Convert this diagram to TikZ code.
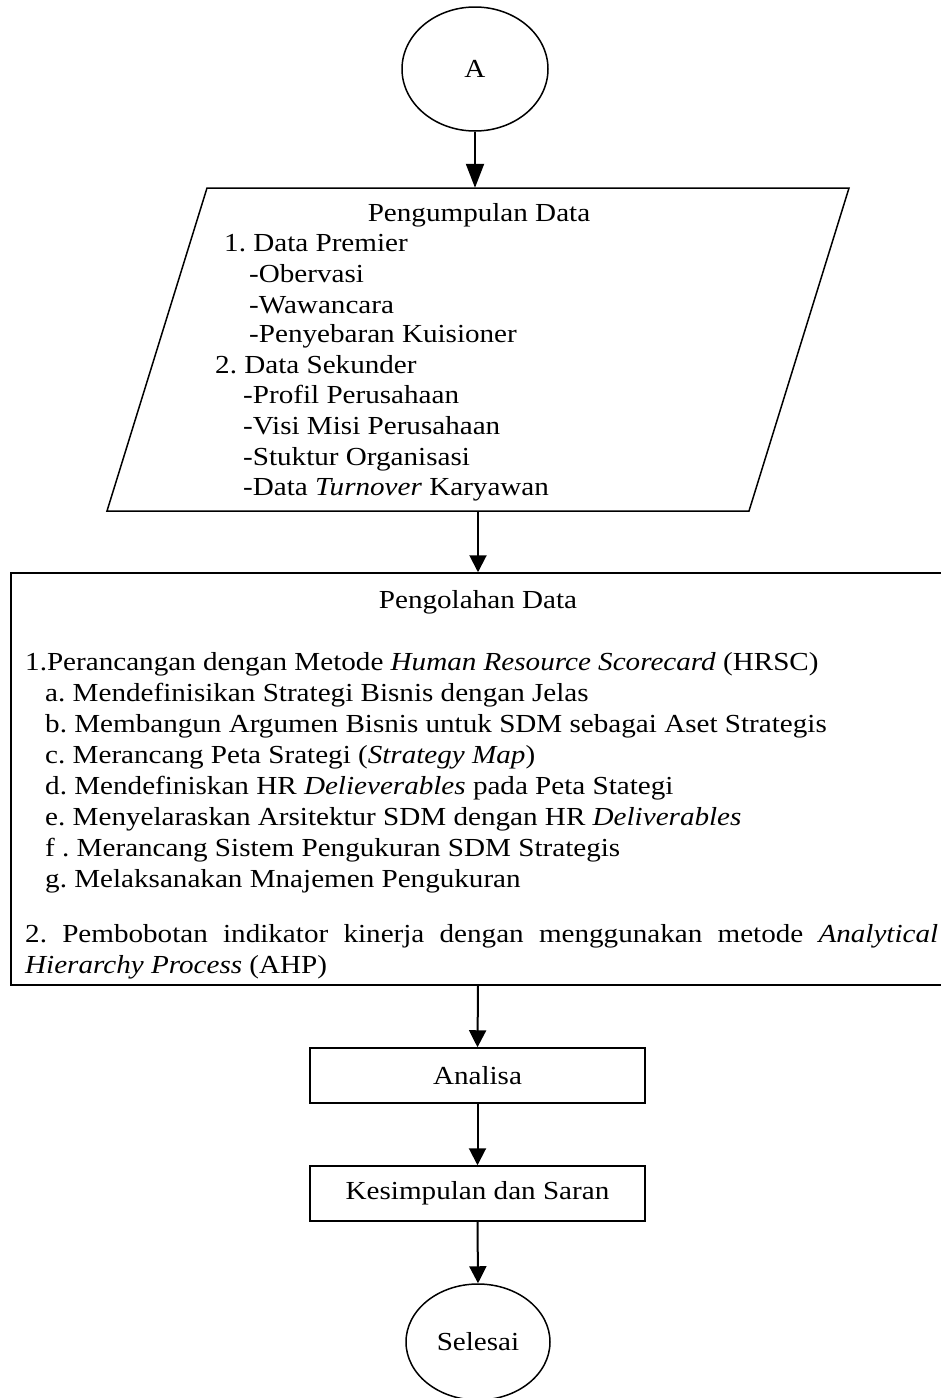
\documentclass[tikz,border=0pt]{standalone}
\usepackage{fontspec}
\setmainfont{Liberation Serif}[FakeStretch=1.12]
\usetikzlibrary{shapes.geometric,arrows.meta}
\begin{document}
\frenchspacing
\begin{tikzpicture}[x=1pt,y=-1pt,
  every node/.style={font=\fontsize{26}{31}\selectfont},
  outline/.style={draw,line width=1.5pt},
  arr/.style={draw,line width=2pt,-{Triangle[length=17pt,width=17pt]}},
  txt/.style={anchor=base west,inner sep=0pt},
  ctxt/.style={anchor=base,inner sep=0pt},
  ell/.style={ellipse,outline,inner sep=0pt},
  boxx/.style={rectangle,outline,inner sep=0pt}]
\useasboundingbox (0,0) rectangle (941,1398);
\clip (0,0) rectangle (941,1398);
\fill[white] (0,0) rectangle (941,1398);

% Start
\node[ell,minimum width=146pt,minimum height=124pt] (A) at (475,69) {A};

% Pengumpulan data (parallelogram)
\node[inner sep=0pt,minimum width=642pt,minimum height=323pt] (P) at (478,349.5) {};
\draw[outline] (207,188) -- (849,188) -- (749,511) -- (107,511) -- cycle;
\node[ctxt] (p0) at (479,221) {Pengumpulan Data};
\node[txt] (p1) at (224,251) {1. Data Premier};
\node[txt] (p2) at (249,282) {-Obervasi};
\node[txt] (p3) at (249,313) {-Wawancara};
\node[txt] (p4) at (249,342) {-Penyebaran Kuisioner};
\node[txt] (p5) at (215,373) {2. Data Sekunder};
\node[txt] (p6) at (243,403) {-Profil Perusahaan};
\node[txt] (p7) at (243,434) {-Visi Misi Perusahaan};
\node[txt] (p8) at (243,465) {-Stuktur Organisasi};
\node[txt] (p9) at (243,495) {-Data \textit{Turnover} Karyawan};

% Pengolahan data
\node[boxx,minimum width=934pt,minimum height=412pt] (B) at (478,779) {};
\node[ctxt] (b0) at (478,608) {Pengolahan Data};
\node[txt] (b1) at (25,670) {1.Perancangan dengan Metode \textit{Human Resource Scorecard} (HRSC)};
\node[txt] (b2) at (45,701) {a. Mendefinisikan Strategi Bisnis dengan Jelas};
\node[txt] (b3) at (45,732) {b. Membangun Argumen Bisnis untuk SDM sebagai Aset Strategis};
\node[txt] (b4) at (45,763) {c. Merancang Peta Srategi (\textit{Strategy Map})};
\node[txt] (b5) at (45,794) {d. Mendefiniskan HR \textit{Delieverables} pada Peta Stategi};
\node[txt] (b6) at (45,825) {e. Menyelaraskan Arsitektur SDM dengan HR \textit{Deliverables}};
\node[txt] (b7) at (45,856) {f . Merancang Sistem Pengukuran SDM Strategis};
\node[txt] (b8) at (45,887) {g. Melaksanakan Mnajemen Pengukuran};
\node[txt] (b9) at (25,942) {\makebox[913pt][s]{2. Pembobotan indikator kinerja dengan menggunakan metode \textit{Analytical}}};
\node[txt] (b10) at (25,973) {\textit{Hierarchy Process} (AHP)};

% Analisa, Kesimpulan, Selesai
\node[boxx,minimum width=335pt,minimum height=55pt] (An) at (477.5,1075.5) {Analisa};
\node[boxx,minimum width=335pt,minimum height=55pt] (Ks) at (477.5,1193.5) {Kesimpulan dan Saran};
\node[ell,minimum width=144pt,minimum height=116pt] (S) at (478,1342) {Selesai};

% Connectors
\draw[arr,-{Triangle[length=24pt,width=18pt]}] (A.south) -- (A.south |- P.north);
\draw[arr] (P.south) -- (B.north);
\draw[arr] (B.south) -- (An.north);
\draw[arr] (An.south) -- (Ks.north);
\draw[arr] (Ks.south) -- (S.north);
\end{tikzpicture}
\end{document}
